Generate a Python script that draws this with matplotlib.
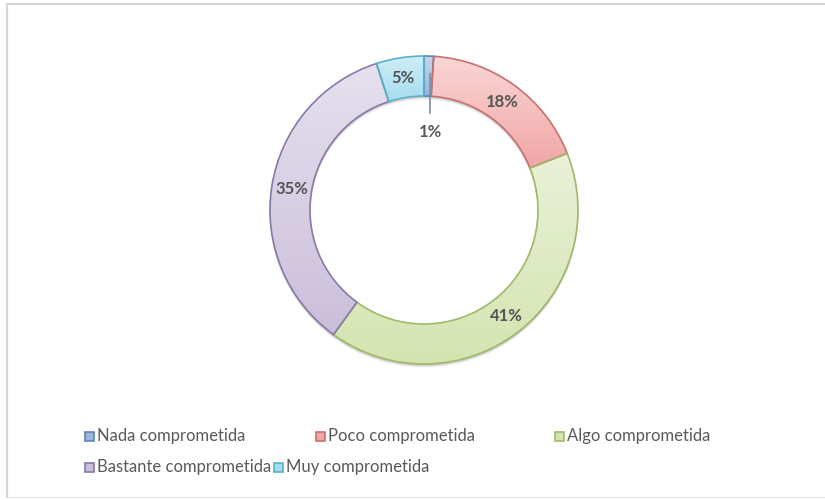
import numpy as np
import matplotlib
matplotlib.use("Agg")
import matplotlib.pyplot as plt
from matplotlib.colors import LinearSegmentedColormap
from matplotlib.patches import Rectangle

plt.rcParams["font.family"] = ["Lato", "DejaVu Sans"]

categories = ["Nada comprometida", "Poco comprometida", "Algo comprometida",
              "Bastante comprometida", "Muy comprometida"]
shares = [1, 18, 41, 35, 5]

# (light top, darker bottom, outline) for each slice
fill_top = ["#c5d6ec", "#f9d6d5", "#e9f1d8", "#e6e0ee", "#cdeef8"]
fill_bottom = ["#9ab6da", "#f0a6a5", "#d4e4b0", "#cabfdb", "#a4dcef"]
edge_colors = ["#5b84b8", "#c8706e", "#9fb86a", "#8a78a8", "#5ab0c8"]

W, H = 825, 500
fig = plt.figure(figsize=(W / 100, H / 100), dpi=100)
ax = fig.add_axes([0, 0, 1, 1])

cx, cy = 424, H - 210
r_out, ring = 154, 40

wedges, _ = ax.pie(shares, startangle=90, counterclock=False, center=(cx, cy),
                   radius=r_out,
                   wedgeprops=dict(width=ring, linewidth=1.2, zorder=3))

# soft drop shadow under the ring
for off, a in [(3, 0.06), (2, 0.08), (1, 0.10)]:
    ax.pie([1], center=(cx, cy - off), radius=r_out + 0.5,
           wedgeprops=dict(width=ring + 1, linewidth=0, facecolor="#000000",
                           alpha=a, zorder=1))

# vertical gradient fill clipped to each wedge
grad = np.linspace(0, 1, 256).reshape(-1, 1)
for w, c0, c1, ec in zip(wedges, fill_top, fill_bottom, edge_colors):
    ext = w.get_path().get_extents()
    cmap = LinearSegmentedColormap.from_list("g", [c1, c0])
    im = ax.imshow(grad, cmap=cmap, origin="lower", aspect="auto",
                   extent=[ext.x0, ext.x1, ext.y0, ext.y1], zorder=2,
                   interpolation="bilinear")
    im.set_clip_path(w)
    w.set_facecolor("none")
    w.set_edgecolor(ec)

ax.set_xlim(0, W)
ax.set_ylim(0, H)
ax.set_aspect("equal")
ax.axis("off")

# percentage labels
label_r = r_out - ring / 2
for w, v in zip(wedges, shares):
    mid = np.deg2rad((w.theta1 + w.theta2) / 2)
    if v < 3:
        x0 = cx + (r_out - 2) * np.cos(mid)
        ax.plot([x0 + 1, x0 + 1], [cy + (r_out - 18), cy + 97], color="#7f8fa6",
                lw=1.2, zorder=4)
        ax.text(x0 + 2, cy + 78, f"{v}%", ha="center", va="center",
                fontsize=12, fontweight="bold", color="#595959", zorder=5)
    else:
        ax.text(cx + label_r * np.cos(mid), cy + label_r * np.sin(mid), f"{v}%",
                ha="center", va="center", fontsize=12, fontweight="bold",
                color="#555555", zorder=5)

# legend entries
fig.canvas.draw()
renderer = fig.canvas.get_renderer()


def legend_item(x, y, label, face, edge):
    ax.add_patch(Rectangle((x, y - 4.5), 9, 9, facecolor=face, edgecolor=edge,
                           lw=1.2, zorder=5))
    t = ax.text(x + 12, y, label, ha="left", va="center", fontsize=12,
                color="#595959", zorder=5)
    bb = t.get_window_extent(renderer)
    return bb.x1


row1 = H - 436
row2 = H - 467
legend_item(85, row1, categories[0], fill_bottom[0], edge_colors[0])
legend_item(316, row1, categories[1], fill_bottom[1], edge_colors[1])
legend_item(555, row1, categories[2], fill_bottom[2], edge_colors[2])
end = legend_item(85, row2, categories[3], fill_bottom[3], edge_colors[3])
legend_item(end + 3, row2, categories[4], fill_bottom[4], edge_colors[4])

# chart area border (left, top and bottom edges)
ax.plot([7, 7, W], [3, H - 4, H - 4], color="#d4d4d4", lw=1.6, zorder=0,
        solid_joinstyle="miter")
ax.plot([7, W], [3, 3], color="#e6e6e6", lw=1.0, zorder=0)

fig.savefig("out.png", dpi=100)
